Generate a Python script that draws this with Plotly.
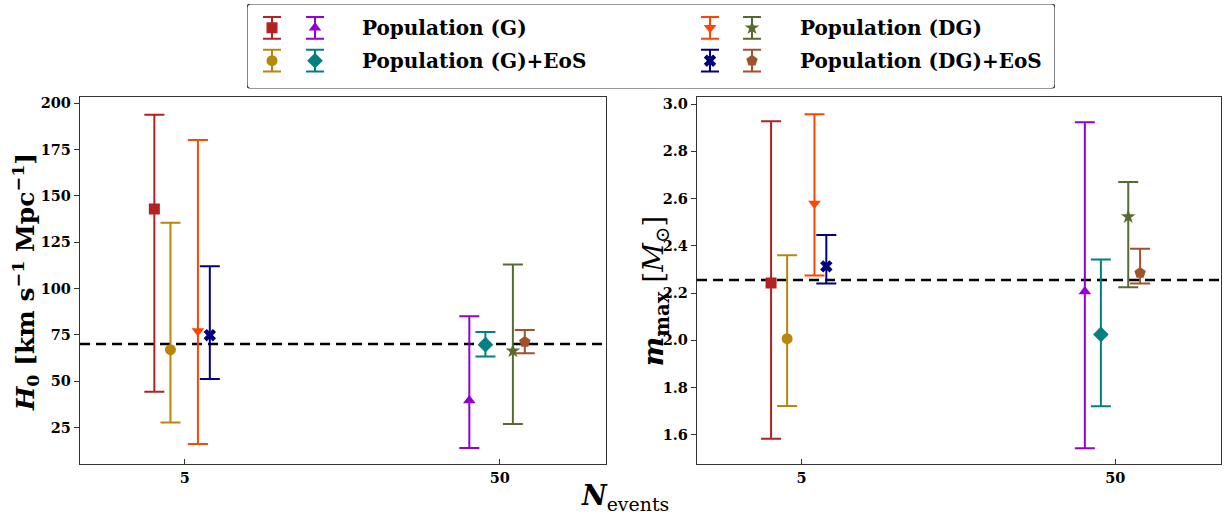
import math
import plotly.graph_objects as go

# ---- data -----------------------------------------------------------------
n_events = [5, 50]
populations = ["Population (G)", "Population (G)+EoS", "Population (DG)", "Population (DG)+EoS"]
x_shift = [0.8, 0.9, 1.1, 1.2]          # horizontal dodge factor per population (log axis)

# colours / markers: first entry for N=5, second for N=50
pop_colors = [["#B22222", "#9400D3"], ["#B8860B", "#008080"],
              ["#FF4500", "#556B2F"], ["#000080", "#A0522D"]]
pop_symbols = [["square", "triangle-up"], ["circle", "diamond"],
               ["triangle-down", "star"], ["x", "pentagon"]]
pop_sizes = [[11, 11], [11, 12], [11, 11], [11, 12]]

# H0 posteriors: median, lower, upper   [pop][N index]
h0_med = [[142.9, 39.5], [67.0, 69.7], [77.1, 66.3], [74.8, 71.2]]
h0_lo = [[44.3, 13.9], [27.7, 63.3], [16.1, 26.8], [51.2, 65.1]]
h0_hi = [[193.9, 85.0], [135.6, 76.5], [180.2, 113.0], [112.0, 77.6]]
h0_true = 70.0

# m_max posteriors: median, lower, upper
mmax_med = [[2.242, 2.207], [2.007, 2.025], [2.579, 2.523], [2.313, 2.285]]
mmax_lo = [[1.583, 1.543], [1.722, 1.721], [2.274, 2.224], [2.240, 2.240]]
mmax_hi = [[2.927, 2.923], [2.360, 2.342], [2.957, 2.670], [2.446, 2.387]]
mmax_true = 2.255

h0_ticks = [25, 50, 75, 100, 125, 150, 175, 200]
mmax_ticks = [1.6, 1.8, 2.0, 2.2, 2.4, 2.6, 2.8, 3.0]

# ---- figure geometry ------------------------------------------------------
W, H = 1225, 516
FONT = "DejaVu Serif"


def px_x(p):
    return p / W


def px_y(p):
    return 1 - p / H


fig = go.Figure()

panels = [
    dict(xa="x", ya="y", med=h0_med, lo=h0_lo, hi=h0_hi),
    dict(xa="x2", ya="y2", med=mmax_med, lo=mmax_lo, hi=mmax_hi),
]

for panel in panels:
    for p in range(4):
        for k, n in enumerate(n_events):
            m = panel["med"][p][k]
            fig.add_trace(go.Scatter(
                x=[n * x_shift[p]], y=[m],
                xaxis=panel["xa"], yaxis=panel["ya"],
                mode="markers",
                marker=dict(symbol=pop_symbols[p][k], size=pop_sizes[p][k],
                            color=pop_colors[p][k], line=dict(width=0)),
                error_y=dict(type="data", symmetric=False,
                             array=[panel["hi"][p][k] - m],
                             arrayminus=[m - panel["lo"][p][k]],
                             color=pop_colors[p][k], thickness=2, width=10),
                showlegend=False, hoverinfo="skip",
            ))

# ---- legend drawn on its own pixel-unit axes ------------------------------
leg_x0, leg_x1, leg_y0, leg_y1 = 247, 1055, 1, 86
leg_rows = [24, 57]
leg_icon_x = [[25, 68], [463, 505]]
leg_text_x = [113, 551]
for p in range(4):
    col, row = p // 2, p % 2
    for k in range(2):
        fig.add_trace(go.Scatter(
            x=[leg_icon_x[col][k]], y=[leg_rows[row]],
            xaxis="x3", yaxis="y3", mode="markers",
            marker=dict(symbol=pop_symbols[p][k], size=pop_sizes[p][k],
                        color=pop_colors[p][k], line=dict(width=0)),
            error_y=dict(type="data", array=[11], color=pop_colors[p][k],
                         thickness=2, width=9),
            showlegend=False, hoverinfo="skip",
        ))
    fig.add_annotation(x=leg_text_x[col], y=leg_rows[row], xref="x3", yref="y3",
                       text=populations[p], showarrow=False, xanchor="left",
                       yanchor="middle",
                       font=dict(family=FONT, size=20, color="black", weight="bold"))

r = 4
lw, lh = leg_x1 - leg_x0, leg_y1 - leg_y0
fig.add_shape(type="path", xref="x3", yref="y3", layer="above",
              path=(f"M {r},0 L {lw - r},0 Q {lw},0 {lw},{r} L {lw},{lh - r} "
                    f"Q {lw},{lh} {lw - r},{lh} L {r},{lh} Q 0,{lh} 0,{lh - r} "
                    f"L 0,{r} Q 0,0 {r},0 Z"),
              line=dict(color="#333333", width=1.2), fillcolor="rgba(0,0,0,0)")

# ---- reference values ---------------------------------------------------------
for xa, ya, val in [("x", "y", h0_true), ("x2", "y2", mmax_true)]:
    fig.add_shape(type="line", xref=f"{xa} domain", yref=ya, x0=0, x1=1,
                  y0=val, y1=val, layer="below",
                  line=dict(color="black", width=2.5, dash="10px,6px"))

# ---- axes -------------------------------------------------------------------
tickfont = dict(family=FONT, size=14.5, color="black", weight="bold")
xcommon = dict(type="log", range=[0.366, 2.036], tickvals=n_events,
               ticktext=[str(n) for n in n_events], ticks="inside", ticklen=5,
               tickwidth=1.2, tickcolor="#333333", showline=True, mirror=True,
               linecolor="#333333", linewidth=1.3, showgrid=False, zeroline=False,
               tickfont=tickfont)
ycommon = dict(ticks="outside", ticklen=5, tickwidth=1.2, tickcolor="#333333",
               showline=True, mirror=True, linecolor="#333333", linewidth=1.3,
               showgrid=False, zeroline=False, tickfont=tickfont)

y_dom = [px_y(464), px_y(95)]
fig.update_layout(
    width=W, height=H,
    margin=dict(l=0, r=0, t=0, b=0),
    paper_bgcolor="white", plot_bgcolor="white",
    showlegend=False,
    xaxis=dict(xcommon, domain=[px_x(80), px_x(606)], anchor="y"),
    yaxis=dict(ycommon, domain=y_dom, range=[5.1, 203.2], tickvals=h0_ticks,
               anchor="x"),
    xaxis2=dict(xcommon, domain=[px_x(697), px_x(1221)], anchor="y2"),
    yaxis2=dict(ycommon, domain=y_dom, range=[1.475, 3.028], tickvals=mmax_ticks,
                tickformat=".1f", anchor="x2"),
    xaxis3=dict(domain=[px_x(leg_x0), px_x(leg_x1)], range=[0, lw], visible=False,
                anchor="y3", fixedrange=True),
    yaxis3=dict(domain=[px_y(leg_y1), px_y(leg_y0)], range=[lh, 0], visible=False,
                anchor="x3", fixedrange=True),
)

# ---- axis titles ------------------------------------------------------------
title_font = dict(family=FONT, size=25, color="black")
fig.add_annotation(x=px_x(26), y=px_y(281), xref="paper", yref="paper",
                   xanchor="center", yanchor="middle",
                   text="<b><i>H</i><sub>0</sub> [km s<sup>−1</sup> Mpc<sup>−1</sup>]</b>",
                   textangle=-90, showarrow=False, font=title_font)
fig.add_annotation(x=px_x(655), y=px_y(290), xref="paper", yref="paper",
                   xanchor="center", yanchor="middle",
                   text="<b><i>m</i><sub>max</sub></b> [<i>M</i><sub>⊙</sub>]",
                   textangle=-90, showarrow=False,
                   font=dict(family=FONT, size=28, color="black"))
fig.add_annotation(x=px_x(625), y=px_y(497), xref="paper", yref="paper",
                   xanchor="center", yanchor="middle",
                   text="<b><i>N</i></b><sub>events</sub>",
                   showarrow=False, font=dict(family=FONT, size=27, color="black"))

fig.write_html("out.html")
